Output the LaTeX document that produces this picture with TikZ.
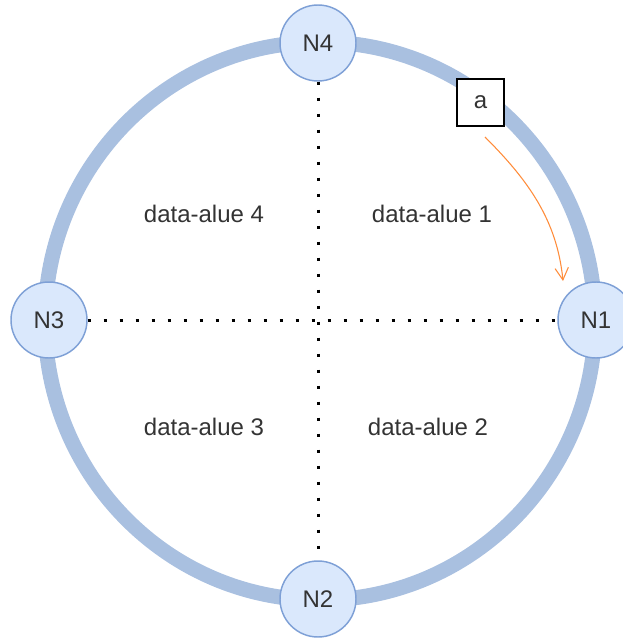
\documentclass[tikz,border=0pt]{standalone}
\usepackage{fontspec}
\setmainfont{Liberation Sans}
\usetikzlibrary{arrows.meta}
\definecolor{ringcol}{HTML}{A9C0E0}
\definecolor{nodefill}{HTML}{DAE8FC}
\definecolor{nodeline}{HTML}{7EA0D6}
\definecolor{txt}{HTML}{333333}
\definecolor{arrowcol}{HTML}{FF8C3A}
\tikzset{
  ringline/.style={draw=ringcol, line width=11.25pt},
  ringnode/.style={circle, fill=nodefill, draw=nodeline, line width=1.1pt, minimum size=57pt, inner sep=0pt, text=txt, font=\fontsize{18}{21}\selectfont},
  lbl/.style={text=txt, font=\fontsize{18}{21}\selectfont, inner sep=0pt},
  abox/.style={draw=black, line width=1pt, minimum size=35.25pt, inner sep=0pt, fill=white, text=txt, font=\fontsize{18}{21}\selectfont},
  dotline/.style={draw=black, line width=2.25pt, dash pattern=on 2.25pt off 9.75pt},
  orangearrow/.style={draw=arrowcol, line width=0.8pt, -{Straight Barb[length=9pt, width=10pt]}}
}
\begin{document}
\begin{tikzpicture}[x=0.75pt, y=-0.75pt]
\useasboundingbox (0,0) rectangle (622,639);
\coordinate (c) at (320,321);
\draw[ringline] (c) ellipse [x radius=206.25pt, y radius=209.25pt];
\node[ringnode] (n4) at (318,43) {N4};
\node[ringnode] (n2) at (318,599) {N2};
\node[ringnode] (n3) at (49,320) {N3};
\node[ringnode] (n1) at (596,320) {N1};
\draw[dotline] (n4) -- (n2);
\draw[dotline] (n3) -- (n1);
\node[lbl] (d4) at (204,214) {data-alue 4};
\node[lbl] (d1) at (432,214) {data-alue 1};
\node[lbl] (d3) at (204,427) {data-alue 3};
\node[lbl] (d2) at (428,427) {data-alue 2};
\node[abox] (a) at (480.5,102.5) {a};
\coordinate (as) at (485,137);
\coordinate (ae) at (563,281);
\draw[orangearrow] (as) .. controls (528,180) and (557,220) .. (ae);
\end{tikzpicture}
\end{document}
